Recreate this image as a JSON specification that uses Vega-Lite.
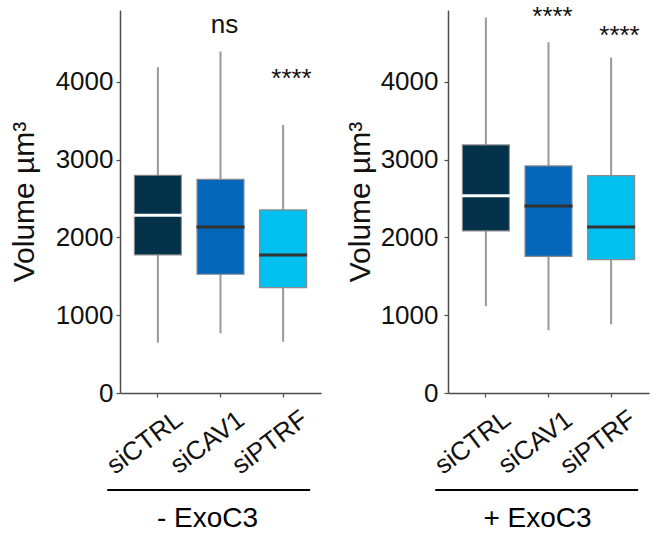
{
  "$schema": "https://vega.github.io/schema/vega-lite/v6.json",
  "background": "white",
  "padding": {"left": 9, "top": 4, "right": 4, "bottom": 4},
  "config": {
    "view": {"stroke": null},
    "font": "Liberation Sans",
    "axis": {
      "grid": false,
      "domainColor": "#4d4d4d",
      "domainWidth": 1.5,
      "tickColor": "#4d4d4d",
      "tickSize": 4,
      "tickWidth": 1.2,
      "labelFontSize": 26,
      "labelColor": "#111",
      "titleFontSize": 28,
      "titleFontWeight": "normal",
      "titleColor": "#111"
    }
  },
  "datasets": {
    "minus": [
      {"group": "siCTRL", "lower": 647, "q1": 1775, "median": 2285, "q3": 2800, "upper": 4190},
      {"group": "siCAV1", "lower": 768, "q1": 1527, "median": 2135, "q3": 2748, "upper": 4390},
      {"group": "siPTRF", "lower": 660, "q1": 1354, "median": 1775, "q3": 2354, "upper": 3447}
    ],
    "plus": [
      {"group": "siCTRL", "lower": 1115, "q1": 2084, "median": 2538, "q3": 3190, "upper": 4827},
      {"group": "siCAV1", "lower": 806, "q1": 1758, "median": 2405, "q3": 2920, "upper": 4510},
      {"group": "siPTRF", "lower": 884, "q1": 1715, "median": 2135, "q3": 2795, "upper": 4313}
    ],
    "minusLabels": [
      {"group": "siCAV1", "y": 4630, "label": "ns"},
      {"group": "siPTRF", "y": 3929, "label": "****"}
    ],
    "plusLabels": [
      {"group": "siCAV1", "y": 4727, "label": "****"},
      {"group": "siPTRF", "y": 4482, "label": "****"}
    ],
    "minusLine": [{"from": -0.81, "to": 2.36, "y": -1248}],
    "plusLine": [{"from": -0.81, "to": 2.36, "y": -1248}]
  },
  "bounds": "flush",
  "spacing": 127,
  "hconcat": [
    {
      "width": 201,
      "height": 383,
      "resolve": {"scale": {"x": "independent"}, "axis": {"x": "independent"}},
      "layer": [
        {
          "data": {"name": "minus"},
          "layer": [
            {
              "mark": {"type": "rule", "color": "#999999", "strokeWidth": 2},
              "encoding": {
                "x": {"field": "group", "type": "nominal", "sort": ["siCTRL", "siCAV1", "siPTRF"],
                  "scale": {"paddingInner": 0.25, "paddingOuter": 0.23},
                  "axis": {"title": "- ExoC3", "labelAngle": -37, "labelAlign": "center", "labelBaseline": "middle", "labelPadding": 45, "labelOffset": -13, "titleX": 87, "titleY": 133, "titleBaseline": "alphabetic", "titleAlign": "center", "titleColor": "black"}},
                "y": {"field": "lower", "type": "quantitative", "scale": {"domain": [0, 4925], "nice": false},
                  "axis": {"title": "Volume µm³", "titleFontSize": 30, "values": [0, 1000, 2000, 3000, 4000], "format": "d", "labelPadding": 3, "titlePadding": 16}},
                "y2": {"field": "upper"}
              }
            },
            {
              "mark": {"type": "bar", "stroke": "#8a8a8a", "strokeWidth": 1.2},
              "encoding": {
                "x": {"field": "group", "type": "nominal", "sort": ["siCTRL", "siCAV1", "siPTRF"]},
                "y": {"field": "q1", "type": "quantitative"},
                "y2": {"field": "q3"},
                "color": {"field": "group", "type": "nominal", "legend": null,
                  "scale": {"domain": ["siCTRL", "siCAV1", "siPTRF"], "range": ["#03314a", "#0467b9", "#02c0f0"]}}
              }
            },
            {
              "mark": {"type": "tick", "thickness": 3, "size": 48, "orient": "horizontal", "opacity": 1},
              "encoding": {
                "x": {"field": "group", "type": "nominal", "sort": ["siCTRL", "siCAV1", "siPTRF"]},
                "y": {"field": "median", "type": "quantitative"},
                "color": {"condition": {"test": "datum.group === 'siCTRL'", "value": "white"}, "value": "#333333"}
              }
            }
          ]
        },
        {
          "data": {"name": "minusLabels"},
          "mark": {"type": "text", "fontSize": 26, "baseline": "alphabetic", "dx": 4, "color": "#111"},
          "encoding": {
            "x": {"field": "group", "type": "nominal", "sort": ["siCTRL", "siCAV1", "siPTRF"], "scale": {"domain": ["siCTRL", "siCAV1", "siPTRF"], "paddingInner": 0.25, "paddingOuter": 0.23}, "axis": null},
            "y": {"field": "y", "type": "quantitative"},
            "text": {"field": "label"}
          }
        },
        {
          "data": {"name": "minusLine"},
          "mark": {"type": "rule", "color": "black", "strokeWidth": 2},
          "encoding": {
            "x": {"field": "from", "type": "quantitative", "scale": {"domain": [-0.61, 2.53], "nice": false, "zero": false}, "axis": null},
            "x2": {"field": "to"},
            "y": {"field": "y", "type": "quantitative"}
          }
        }
      ]
    },
    {
      "width": 201,
      "height": 383,
      "resolve": {"scale": {"x": "independent"}, "axis": {"x": "independent"}},
      "layer": [
        {
          "data": {"name": "plus"},
          "layer": [
            {
              "mark": {"type": "rule", "color": "#999999", "strokeWidth": 2},
              "encoding": {
                "x": {"field": "group", "type": "nominal", "sort": ["siCTRL", "siCAV1", "siPTRF"],
                  "scale": {"paddingInner": 0.25, "paddingOuter": 0.23},
                  "axis": {"title": "+ ExoC3", "labelAngle": -37, "labelAlign": "center", "labelBaseline": "middle", "labelPadding": 45, "labelOffset": -13, "titleX": 89, "titleY": 133, "titleBaseline": "alphabetic", "titleAlign": "center", "titleColor": "black"}},
                "y": {"field": "lower", "type": "quantitative", "scale": {"domain": [0, 4925], "nice": false},
                  "axis": {"title": "Volume µm³", "titleFontSize": 30, "values": [0, 1000, 2000, 3000, 4000], "format": "d", "labelPadding": 6, "titlePadding": 5}},
                "y2": {"field": "upper"}
              }
            },
            {
              "mark": {"type": "bar", "stroke": "#8a8a8a", "strokeWidth": 1.2},
              "encoding": {
                "x": {"field": "group", "type": "nominal", "sort": ["siCTRL", "siCAV1", "siPTRF"]},
                "y": {"field": "q1", "type": "quantitative"},
                "y2": {"field": "q3"},
                "color": {"field": "group", "type": "nominal", "legend": null,
                  "scale": {"domain": ["siCTRL", "siCAV1", "siPTRF"], "range": ["#03314a", "#0467b9", "#02c0f0"]}}
              }
            },
            {
              "mark": {"type": "tick", "thickness": 3, "size": 48, "orient": "horizontal", "opacity": 1},
              "encoding": {
                "x": {"field": "group", "type": "nominal", "sort": ["siCTRL", "siCAV1", "siPTRF"]},
                "y": {"field": "median", "type": "quantitative"},
                "color": {"condition": {"test": "datum.group === 'siCTRL'", "value": "white"}, "value": "#333333"}
              }
            }
          ]
        },
        {
          "data": {"name": "plusLabels"},
          "mark": {"type": "text", "fontSize": 26, "baseline": "alphabetic", "dx": 4, "color": "#111"},
          "encoding": {
            "x": {"field": "group", "type": "nominal", "sort": ["siCTRL", "siCAV1", "siPTRF"], "scale": {"domain": ["siCTRL", "siCAV1", "siPTRF"], "paddingInner": 0.25, "paddingOuter": 0.23}, "axis": null},
            "y": {"field": "y", "type": "quantitative"},
            "text": {"field": "label"}
          }
        },
        {
          "data": {"name": "plusLine"},
          "mark": {"type": "rule", "color": "black", "strokeWidth": 2},
          "encoding": {
            "x": {"field": "from", "type": "quantitative", "scale": {"domain": [-0.61, 2.53], "nice": false, "zero": false}, "axis": null},
            "x2": {"field": "to"},
            "y": {"field": "y", "type": "quantitative"}
          }
        }
      ]
    }
  ]
}
